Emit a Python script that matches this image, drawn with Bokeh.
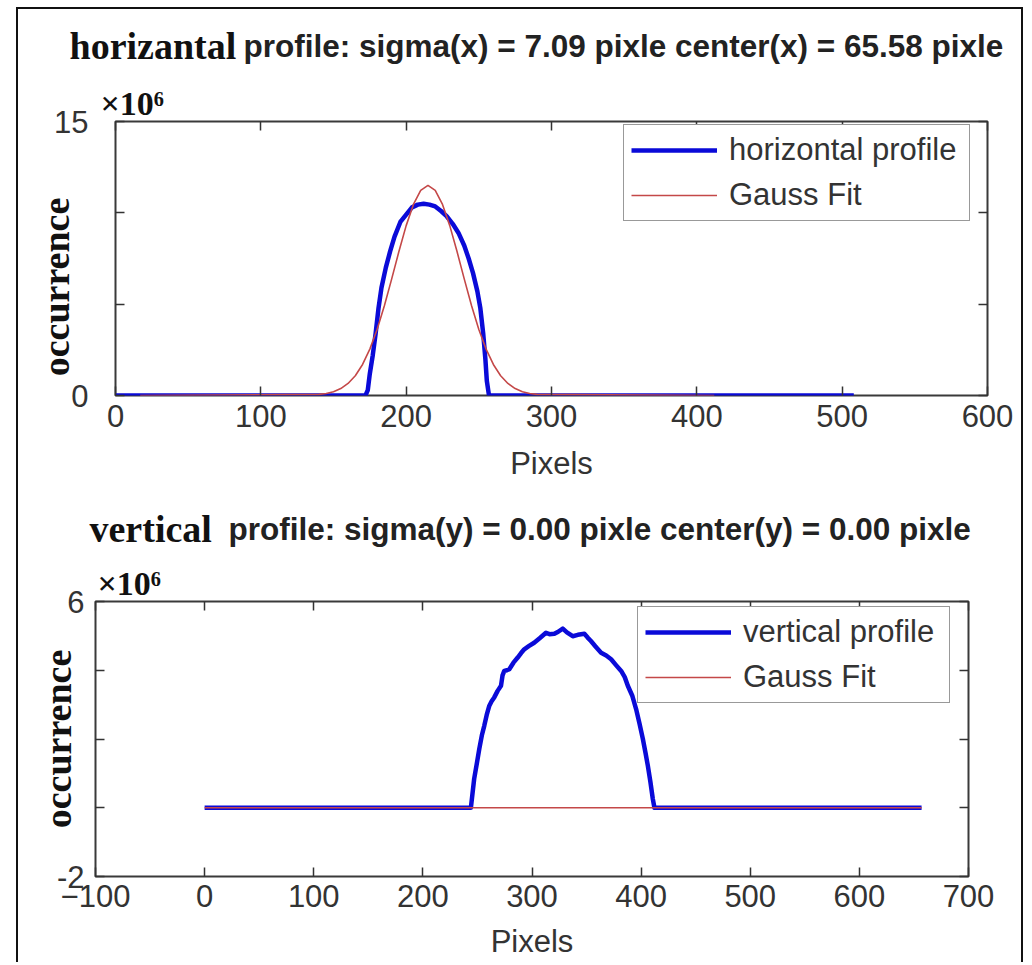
from bokeh.plotting import figure
from bokeh.models import Range1d, FixedTicker, LinearAxis, Title
from bokeh.core.properties import value
from bokeh.embed import file_html
from bokeh.resources import INLINE

# ---------------- data (occurrence in units of 10^6) ----------------
h_profile_x = [0, 172, 173.6, 175, 177, 179, 181, 183, 186, 189, 192, 196, 200, 204, 208,
               212, 216, 220, 224, 228, 232, 236, 240, 243, 246, 249, 251, 253, 254.5,
               255.5, 257, 508]
h_profile_y = [0, 0, 0.3, 1.2, 2.2, 3.4, 4.8, 5.9, 7.0, 7.9, 8.7, 9.5, 9.9, 10.3, 10.45,
               10.5, 10.45, 10.35, 10.1, 9.8, 9.4, 8.9, 8.2, 7.5, 6.7, 5.7, 4.8, 3.4, 2.0,
               0.8, 0, 0]
h_fit_x = [17, 140, 145, 150, 155, 160, 165, 170, 175, 180, 185, 190, 195, 200, 205, 210,
           215, 220, 225, 230, 235, 240, 245, 250, 255, 260, 265, 270, 275, 280, 285, 290, 412]
h_fit_y = [0, 0.06, 0.11, 0.21, 0.38, 0.66, 1.08, 1.70, 2.54, 3.61, 4.91, 6.37, 7.88, 9.30,
           10.46, 11.23, 11.5, 11.23, 10.46, 9.30, 7.88, 6.37, 4.91, 3.61, 2.54, 1.70, 1.08,
           0.66, 0.38, 0.21, 0.11, 0.06, 0]

v_profile_x = [0, 244, 247, 249.5, 251.7, 254, 256.3, 258.5, 260.9, 263, 265.4, 268.5, 271.6,
               273, 274.6, 277, 279.2, 283, 286.9, 290, 292.9, 297, 302, 307, 312.8, 316,
               320.5, 324, 328.2, 332, 337.3, 342, 348, 351, 354, 358, 363.3, 368, 372.5,
               377, 381.7, 385, 387.8, 392, 395.4, 398.5, 401.6, 404, 406.1, 408.5, 410.7,
               412.2, 657]
v_profile_y = [0, 0, 0.84, 1.3, 1.71, 2.1, 2.39, 2.7, 2.97, 3.1, 3.21, 3.4, 3.55, 3.85, 3.98,
               4.0, 4.03, 4.22, 4.37, 4.5, 4.61, 4.7, 4.80, 4.93, 5.09, 5.05, 5.06, 5.12,
               5.21, 5.1, 4.99, 5.03, 5.06, 4.95, 4.85, 4.7, 4.51, 4.43, 4.32, 4.15, 3.98,
               3.8, 3.55, 3.25, 2.87, 2.45, 2.0, 1.6, 1.23, 0.75, 0.26, 0, 0]
v_fit_x = [0, 657]
v_fit_y = [0, 0]

top_xticks = [0, 100, 200, 300, 400, 500, 600]
top_yticks = [0, 5, 10, 15]
top_ytick_labels = ["0", "", "", "15"]
bot_xticks = [-100, 0, 100, 200, 300, 400, 500, 600, 700]
bot_yticks = [-2, 0, 2, 4, 6]
bot_ytick_labels = ["-2", "", "", "", "6"]

top_title_a = "horizantal"
top_title_b = "profile: sigma(x) = 7.09 pixle center(x) = 65.58 pixle"
bot_title_a = "vertical"
bot_title_b = "profile: sigma(y) = 0.00 pixle center(y) = 0.00 pixle"
scale_text = "\u00d710\u2076"
y_label = "occurrence"
x_label = "Pixels"

BLUE = "#0a0ad8"
RED = "#c44848"
TXT = "#333333"
W = 1007
SIDE = {"margin-left": "16px", "border-left": "2px solid #111111",
        "border-right": "2px solid #111111"}


def style_axis(ax, standoff, labels=True):
    ax.axis_line_color = None
    ax.major_tick_in = 9
    ax.major_tick_out = 0
    ax.major_tick_line_color = "#333333"
    ax.major_tick_line_width = 1.5
    ax.minor_tick_line_color = None
    ax.major_label_text_font = "Liberation Sans"
    ax.major_label_text_font_size = "31px"
    ax.major_label_text_color = TXT
    ax.major_label_standoff = standoff
    if not labels:
        ax.major_label_text_font_size = "1px"
        ax.major_label_text_color = None


def title_fig(h, a, b, xa, xb, base, first=False):
    t = figure(width=W, height=h, x_range=Range1d(0, W), y_range=Range1d(h, 0),
               title=None, output_backend="svg", toolbar_location=None,
               x_axis_location=None, y_axis_location=None,
               min_border_left=0, min_border_right=0, min_border_top=0, min_border_bottom=0)
    t.xgrid.visible = False
    t.ygrid.visible = False
    t.outline_line_color = None
    st = dict(SIDE)
    if first:
        st.update({"margin-top": "7px", "border-top": "2px solid #111111"})
    t.styles = st
    t.text(x=[xa], y=[base], text=[a], text_font=value("Liberation Serif"),
           text_font_style="bold", text_font_size=value("38px"), text_color="#111111",
           text_align="left", text_baseline="alphabetic")
    t.text(x=[xb], y=[base], text=[b], text_font=value("Liberation Sans"),
           text_font_style="bold", text_font_size=value("31.5px"), text_color="#222222",
           text_align="left", text_baseline="alphabetic")
    return t


def plot_fig(h, xr, yr, xt, yt, ylabels, borders, xstand, ystand, ylab, ylab_stand,
             xlab_stand, title_offset):
    p = figure(width=W, height=h, x_range=Range1d(*xr), y_range=Range1d(*yr),
               output_backend="svg", toolbar_location=None,
               x_axis_location=None, y_axis_location=None,
               min_border_left=borders[0], min_border_right=borders[1],
               min_border_top=borders[2], min_border_bottom=borders[3])
    p.styles = dict(SIDE)
    p.xgrid.visible = False
    p.ygrid.visible = False
    p.outline_line_color = "#3a3a3a"
    p.outline_line_width = 2

    bx = LinearAxis(ticker=FixedTicker(ticks=xt), axis_label=x_label)
    style_axis(bx, xstand)
    bx.axis_label_text_font = "Liberation Sans"
    bx.axis_label_text_font_style = "normal"
    bx.axis_label_text_font_size = "31px"
    bx.axis_label_text_color = TXT
    bx.axis_label_standoff = xlab_stand
    p.add_layout(bx, "below")

    ax_ = LinearAxis(ticker=FixedTicker(ticks=xt))
    style_axis(ax_, 0, labels=False)
    p.add_layout(ax_, "above")

    ly = LinearAxis(ticker=FixedTicker(ticks=yt),
                    major_label_overrides={t: s for t, s in zip(yt, ylabels)},
                    axis_label=ylab)
    style_axis(ly, ystand)
    ly.axis_label_text_font = "Liberation Serif"
    ly.axis_label_text_font_style = "bold"
    ly.axis_label_text_font_size = "38px"
    ly.axis_label_text_color = "#111111"
    ly.axis_label_standoff = ylab_stand
    p.add_layout(ly, "left")

    ry = LinearAxis(ticker=FixedTicker(ticks=yt))
    style_axis(ry, 0, labels=False)
    p.add_layout(ry, "right")

    p.add_layout(Title(text=scale_text, align="left", offset=title_offset, standoff=0,
                       text_font="Liberation Serif", text_font_style="bold",
                       text_font_size="34px", text_color="#111111"), "above")
    return p


def style_legend(p, loc, lw):
    lg = p.legend[0]
    lg.location = loc
    lg.label_text_font = "Liberation Sans"
    lg.label_text_font_size = "31px"
    lg.label_text_color = TXT
    lg.glyph_width = 86
    lg.glyph_height = 28
    lg.label_height = 28
    lg.label_width = lw
    lg.label_standoff = 12
    lg.padding = 7
    lg.spacing = 9
    lg.margin = 0
    lg.border_line_color = "#333333"
    lg.border_line_width = 1.5
    lg.background_fill_color = "white"
    lg.background_fill_alpha = 1.0


# ---------------- top panel ----------------
t1 = title_fig(61, top_title_a, top_title_b, 51, 225, 36, first=True)
p1 = plot_fig(420, (0, 600), (0, 15), top_xticks, top_yticks, top_ytick_labels,
              (97, 38, 53, 93), 9, 27, y_label + "\u00a0" * 6, -26, 16, -15)
p1.line(h_profile_x, h_profile_y, line_color=BLUE, line_width=4.5, line_join="round",
        legend_label="horizontal profile")
p1.line(h_fit_x, h_fit_y, line_color=RED, line_width=1.6, legend_label="Gauss Fit")
style_legend(p1, (508, 174), 233)

# ---------------- bottom panel ----------------
t2 = title_fig(70, bot_title_a, bot_title_b, 71, 210, 40)
p2 = plot_fig(404, (-100, 700), (-2, 6), bot_xticks, bot_yticks, bot_ytick_labels,
              (77, 57, 43, 86), 8, 11, y_label, -25, 14, 2)
p2.line(v_profile_x, v_profile_y, line_color=BLUE, line_width=4.5, line_join="round",
        legend_label="vertical profile")
p2.line(v_fit_x, v_fit_y, line_color=RED, line_width=1.6, legend_label="Gauss Fit")
style_legend(p2, (542, 173), 199)

open("out.html", "w").write(file_html([t1, p1, t2, p2], INLINE))
